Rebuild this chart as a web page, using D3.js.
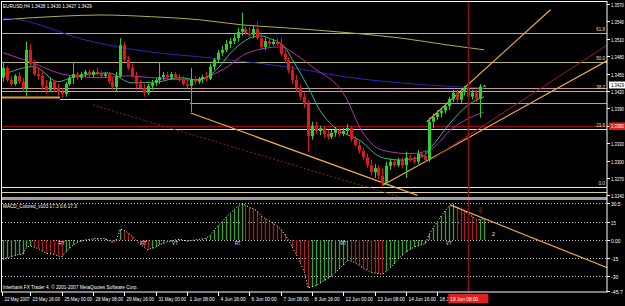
<!DOCTYPE html>
<html><head><meta charset="utf-8">
<script src="https://cdn.jsdelivr.net/npm/d3@7"></script>
<style>body{margin:0;background:#000;overflow:hidden}svg{display:block}text{font-family:"Liberation Sans",Arial,sans-serif}</style>
</head><body><script>
// ---------- DATA ----------
const symbolTitle = "EURUSD,H4 1.3428 1.3430 1.3427 1.3429";
const macdTitle = "MACD_Colored_v103 17.3 0.6 17.3";
const copyright = "Interbank FX Trader 4, \u00a9 2001-2007 MetaQuotes Software Corp.";
const openP = [1.3443,1.3460,1.3439,1.3432,1.3446,1.3436,1.3425,1.3491,1.3467,1.3449,1.3446,1.3429,1.3422,1.3436,1.3425,1.3418,1.3415,1.3432,1.3443,1.3449,1.3443,1.3449,1.3453,1.3448,1.3453,1.3451,1.3446,1.3449,1.3436,1.3427,1.3446,1.3499,1.3474,1.3460,1.3446,1.3432,1.3425,1.3417,1.3429,1.3434,1.3439,1.3444,1.3448,1.3443,1.3449,1.3444,1.3439,1.3432,1.3429,1.3439,1.3436,1.3441,1.3444,1.3441,1.3462,1.3474,1.3486,1.3491,1.3501,1.3506,1.3511,1.3522,1.3527,1.3520,1.3517,1.3527,1.3511,1.3496,1.3506,1.3501,1.3505,1.3501,1.3484,1.3474,1.3456,1.3439,1.3425,1.3410,1.3398,1.3342,1.3360,1.3351,1.3356,1.3346,1.3341,1.3348,1.3353,1.3346,1.3351,1.3356,1.3337,1.3327,1.3317,1.3306,1.3292,1.3280,1.3287,1.3274,1.3261,1.3291,1.3298,1.3292,1.3301,1.3292,1.3305,1.3301,1.3298,1.3312,1.3308,1.3301,1.3367,1.3375,1.3382,1.3386,1.3394,1.3406,1.3417,1.3405,1.3418,1.3424,1.3410,1.3417,1.3406,1.3428];
const highP = [1.3470,1.3463,1.3446,1.3449,1.3453,1.3443,1.3505,1.3501,1.3474,1.3460,1.3453,1.3439,1.3443,1.3439,1.3432,1.3425,1.3436,1.3446,1.3470,1.3453,1.3453,1.3456,1.3456,1.3456,1.3460,1.3455,1.3453,1.3453,1.3443,1.3453,1.3511,1.3505,1.3480,1.3467,1.3453,1.3439,1.3432,1.3432,1.3439,1.3443,1.3470,1.3453,1.3453,1.3453,1.3453,1.3449,1.3446,1.3439,1.3460,1.3446,1.3444,1.3448,1.3453,1.3467,1.3477,1.3491,1.3498,1.3508,1.3511,1.3518,1.3529,1.3555,1.3534,1.3530,1.3532,1.3539,1.3518,1.3511,1.3511,1.3510,1.3511,1.3511,1.3491,1.3479,1.3463,1.3448,1.3431,1.3417,1.3405,1.3367,1.3367,1.3360,1.3360,1.3353,1.3353,1.3358,1.3356,1.3356,1.3363,1.3360,1.3342,1.3334,1.3322,1.3312,1.3301,1.3294,1.3292,1.3287,1.3298,1.3303,1.3303,1.3305,1.3306,1.3315,1.3310,1.3308,1.3318,1.3315,1.3318,1.3374,1.3381,1.3387,1.3389,1.3398,1.3410,1.3422,1.3422,1.3425,1.3429,1.3429,1.3422,1.3422,1.3432,1.3430];
const lowP = [1.3436,1.3436,1.3429,1.3429,1.3432,1.3418,1.3412,1.3463,1.3446,1.3439,1.3422,1.3415,1.3418,1.3418,1.3412,1.3408,1.3410,1.3429,1.3432,1.3439,1.3439,1.3444,1.3443,1.3444,1.3446,1.3443,1.3443,1.3432,1.3422,1.3418,1.3443,1.3470,1.3456,1.3443,1.3425,1.3422,1.3410,1.3413,1.3422,1.3429,1.3432,1.3439,1.3439,1.3439,1.3441,1.3436,1.3429,1.3425,1.3384,1.3431,1.3432,1.3434,1.3436,1.3439,1.3456,1.3470,1.3480,1.3487,1.3494,1.3501,1.3505,1.3515,1.3517,1.3513,1.3511,1.3508,1.3491,1.3491,1.3496,1.3498,1.3498,1.3480,1.3468,1.3451,1.3432,1.3418,1.3405,1.3391,1.3315,1.3336,1.3346,1.3344,1.3339,1.3336,1.3337,1.3341,1.3341,1.3342,1.3344,1.3332,1.3324,1.3312,1.3301,1.3287,1.3274,1.3270,1.3268,1.3255,1.3258,1.3284,1.3289,1.3289,1.3287,1.3270,1.3298,1.3294,1.3294,1.3305,1.3296,1.3298,1.3356,1.3370,1.3374,1.3381,1.3387,1.3401,1.3399,1.3399,1.3412,1.3387,1.3405,1.3401,1.3374,1.3427];
const closeP = [1.3460,1.3439,1.3432,1.3446,1.3436,1.3425,1.3491,1.3467,1.3449,1.3446,1.3429,1.3422,1.3436,1.3425,1.3418,1.3415,1.3432,1.3443,1.3449,1.3443,1.3449,1.3453,1.3448,1.3453,1.3451,1.3446,1.3449,1.3436,1.3427,1.3446,1.3499,1.3474,1.3460,1.3446,1.3432,1.3425,1.3417,1.3429,1.3434,1.3439,1.3444,1.3448,1.3443,1.3449,1.3444,1.3439,1.3432,1.3429,1.3439,1.3436,1.3441,1.3444,1.3441,1.3462,1.3474,1.3486,1.3491,1.3501,1.3506,1.3511,1.3522,1.3527,1.3520,1.3517,1.3527,1.3511,1.3496,1.3506,1.3501,1.3505,1.3501,1.3484,1.3474,1.3456,1.3439,1.3425,1.3410,1.3398,1.3342,1.3360,1.3351,1.3356,1.3346,1.3341,1.3348,1.3353,1.3346,1.3351,1.3356,1.3337,1.3327,1.3317,1.3306,1.3292,1.3280,1.3287,1.3274,1.3261,1.3291,1.3298,1.3292,1.3301,1.3292,1.3305,1.3301,1.3298,1.3312,1.3308,1.3301,1.3367,1.3375,1.3382,1.3386,1.3394,1.3406,1.3417,1.3405,1.3418,1.3424,1.3410,1.3417,1.3406,1.3428,1.3429];

// moving averages read at sample bars
const maSlowBars = [0,15,25,38,50,61,72,89,102,114,123];
const maSlowVals = [1.3543,1.3549,1.3551,1.3548,1.3543,1.3534,1.3529,1.3520,1.3511,1.3499,1.3491];
const maBlueBars = [0,4,21,38,50,72,89,107,123];
const maBlueVals = [1.3546,1.3543,1.3508,1.3487,1.3479,1.3462,1.3443,1.3431,1.3425];
const maMagBars = [0,7,16,25,32,38,48,56,63,71,75,79,88,91,97,104,109,115,123];
const maMagVals = [1.3486,1.3470,1.3448,1.3443,1.3446,1.3443,1.3439,1.3456,1.3487,1.3496,1.3482,1.3462,1.3405,1.3360,1.3318,1.3312,1.3318,1.3356,1.3384];
const maTealBars = [0,8,14,18,27,33,40,45,50,54,59,63,66,68,72,74,78,81,85,91,97,102,107,110,114,119,123];
const maTealVals = [1.3448,1.3462,1.3436,1.3444,1.3451,1.3434,1.3436,1.3443,1.3439,1.3453,1.3491,1.3511,1.3515,1.3511,1.3496,1.3474,1.3427,1.3387,1.3356,1.3336,1.3305,1.3301,1.3306,1.3327,1.3362,1.3396,1.3410];

// horizontal levels (fibo + manual lines)
const fiboLevels = [1.3520, 1.3470, 1.3420, 1.3355, 1.3255];
const fiboLabels = ["61.8", "50.0", "38.2", "23.6", "0.0"];
const orangeLevels = [1.3410, 1.3400];
const redLevel = 1.3360;
const extraLevels = [1.3425, 1.3245];

// trend lines: [bar1, price1, bar2, price2]
const orangeTrend = [[48,1.3382,106,1.3240],[97.2,1.3258,154.7,1.3473],[108.4,1.3367,140,1.3560]];
const redTrend = [[23,1.3396,110,1.3220],[110,1.3304,154.7,1.3500]];

const macdVals = [-16,-15,-14,-13,-12,-12,-6,-5,-6,-7,-9,-11,-11.5,-12,-13,-14,-10,-7,-4,-2,-1,0,0.5,1,1.5,1.2,1.3,-0.5,-2,0,9,8,6,3,0,-3,-6,-8,-7,-6,-4,-3,-1.5,-1,0,0.5,0,-1,-0.5,0,0.5,1,1.5,4,8,12,15,19,22,25,28,30,29,27,26,24,20,18,16,14,12,9,5,0,-6,-12,-19,-26,-40,-39,-38,-36,-34,-32,-30,-27,-24,-21,-17,-17.5,-19,-21,-23,-25,-27,-27.5,-28,-28.5,-26,-23,-20,-16,-13,-10,-8,-6,-5,-4,-3,5,10,15,20,24,28,29.5,27.5,26,24,22,19.5,16.8,17.1,17.3];
const macdMarks = [{bar:15,t:"RT"},{bar:36,t:"RT"},{bar:44,t:"VT"},{bar:60,t:"RT"},{bar:87,t:"RT"},{bar:114,t:"VT"}];
const macdTrend = [114.3, 29.2, 154.7, -23.3];
const macdTicks = [30.5, 15, 0, -15, -30, -45.7];
const macdTickText = ["30.5", "15", "0.00", "-15", "-30", "-45.7"];
const macdGrid = [30.5, 15, 0, -15, -30];

const priceTicks = [1.3570,1.3540,1.3510,1.3480,1.3450,1.3420,1.3390,1.3360,1.3330,1.3300,1.3270,1.3240];
const timeLabels = ["22 May 2007","23 May 16:00","25 May 00:00","28 May 08:00","29 May 16:00","31 May 00:00","1 Jun 08:00","4 Jun 16:00","6 Jun 00:00","7 Jun 08:00","8 Jun 16:00","12 Jun 00:00","13 Jun 08:00","14 Jun 16:00","18 Jun 00:00"];
const timeLabelBars = [-1,7,15,23,31,39,47,55,63,71,79,87,95,103,111];
const cursorBar = 119;
const cursorLabel = "19 Jun 08:00";
const lastPrice = 1.3429;

// ---------- CHART ----------
const W = 625, H = 306;
const L = 2, R = 607, mainTop = 2, mainBot = 197, subTop = 201, subBot = 292;
const svg = d3.select("body").append("svg").attr("width", W).attr("height", H);
svg.append("rect").attr("width", W).attr("height", H).attr("fill", "#000");
const defs = svg.append("defs");
defs.append("clipPath").attr("id", "cm").append("rect").attr("x", L).attr("y", mainTop).attr("width", R - L).attr("height", mainBot - mainTop);
defs.append("clipPath").attr("id", "cs").append("rect").attr("x", L).attr("y", subTop).attr("width", R - L).attr("height", subBot - subTop);

const x = d3.scaleLinear().domain([0, 123]).range([3, 484]);
const y = d3.scaleLinear().domain([1.32372, 1.35734]).range([197, 2]);
const ym = d3.scaleLinear().domain([-43.3, 33.3]).range([292, 200]);

const gm = svg.append("g").attr("clip-path", "url(#cm)");
const gs = svg.append("g").attr("clip-path", "url(#cs)");

// small text helper: narrow pixel font look via horizontal scaling to a target width
const txt = (g, xx, yy, s, col, size, width, anchor = "start") => {
  const t = g.append("text").attr("x", 0).attr("y", 0).attr("fill", col).attr("font-size", size)
    .attr("text-anchor", anchor).text(s);
  let sx = 1;
  if (width) { const nat = t.node().getComputedTextLength(); if (nat > 0) sx = width / nat; }
  t.attr("transform", `translate(${xx},${yy}) scale(${sx},1)`);
  return t;
};

// horizontal lines
const hline = (g, p, col, w, x1 = L, x2 = R, dash = null) => g.append("line").attr("x1", x1).attr("x2", x2)
  .attr("y1", Math.round(y(p)) + 0.5).attr("y2", Math.round(y(p)) + 0.5).attr("stroke", col).attr("stroke-width", w)
  .attr("stroke-dasharray", dash);
fiboLevels.forEach((p, i) => {
  const col = i === 4 ? "#f4f0b0" : (i === 3 ? "#e8e8a0" : "#b8b870");
  hline(gm, p, col, 1);
});
hline(gm, extraLevels[0], "#c89898", 1);
hline(gm, extraLevels[1], "#d8d0a0", 1);
hline(gm, orangeLevels[0], "#e89a40", 2, L, 60);
hline(gm, orangeLevels[0] - 0.0003, "#e8e0d0", 1, 60, 190);
hline(gm, orangeLevels[1], "#e89a40", 1, 190, R);
hline(gm, redLevel, "#8a1010", 1.5);

// moving averages
const maLine = (bars, vals, col) => gm.append("path")
  .attr("d", d3.line().x(d => x(d[0])).y(d => y(d[1])).curve(d3.curveMonotoneX)(bars.map((b, i) => [b, vals[i]])))
  .attr("fill", "none").attr("stroke", col).attr("stroke-width", 1);
maLine(maSlowBars, maSlowVals, "#b0b048");
maLine(maBlueBars, maBlueVals, "#2828b8");
maLine(maMagBars, maMagVals, "#b030b0");
maLine(maTealBars, maTealVals, "#30b890");

// trend lines
orangeTrend.forEach(t => gm.append("line").attr("x1", x(t[0])).attr("y1", y(t[1])).attr("x2", x(t[2])).attr("y2", y(t[3]))
  .attr("stroke", "#f0a848").attr("stroke-width", 1.2));
gm.append("line").attr("x1", x(redTrend[0][0])).attr("y1", y(redTrend[0][1])).attr("x2", x(redTrend[0][2])).attr("y2", y(redTrend[0][3]))
  .attr("stroke", "#9a2020").attr("stroke-width", 1).attr("stroke-dasharray", "2,2");
gm.append("line").attr("x1", x(redTrend[1][0])).attr("y1", y(redTrend[1][1])).attr("x2", x(redTrend[1][2])).attr("y2", y(redTrend[1][3]))
  .attr("stroke", "#9a2020").attr("stroke-width", 1);

// candles
const idx = d3.range(openP.length);
const bull = i => closeP[i] >= openP[i];
gm.selectAll(".wick").data(idx).join("line")
  .attr("x1", i => Math.round(x(i)) + 0.5).attr("x2", i => Math.round(x(i)) + 0.5)
  .attr("y1", i => y(highP[i])).attr("y2", i => y(lowP[i]))
  .attr("stroke", i => bull(i) ? "#2ed02e" : "#e01818").attr("stroke-width", 1);
gm.selectAll(".body").data(idx).join("rect")
  .attr("x", i => Math.round(x(i)) - 1).attr("width", 3)
  .attr("y", i => y(Math.max(openP[i], closeP[i])))
  .attr("height", i => Math.max(1, Math.abs(y(openP[i]) - y(closeP[i]))))
  .attr("fill", i => bull(i) ? "#2ed02e" : "#e01818");

// fibo labels
fiboLevels.forEach((p, i) => txt(svg, 605, y(p) - 1.5, fiboLabels[i], "#e0e0a0", 5.5, fiboLabels[i].length * 2.2, "end"));

// cursor vertical line
svg.append("line").attr("x1", Math.round(x(cursorBar)) + 0.5).attr("x2", Math.round(x(cursorBar)) + 0.5)
  .attr("y1", mainTop).attr("y2", subBot).attr("stroke", "#901010").attr("stroke-width", 1.5);

// separator
svg.append("rect").attr("x", L).attr("y", 197).attr("width", R - L).attr("height", 3).attr("fill", "#a0a0a0");

// MACD panel
macdGrid.forEach(v => gs.append("line").attr("x1", L).attr("x2", R).attr("y1", Math.round(ym(v)) + 0.5).attr("y2", Math.round(ym(v)) + 0.5)
  .attr("stroke", "#c0c0c0").attr("stroke-width", 1).attr("stroke-dasharray", "1,2"));
gs.selectAll(".hist").data(idx).join("line")
  .attr("x1", i => Math.round(x(i)) + 0.5).attr("x2", i => Math.round(x(i)) + 0.5)
  .attr("y1", ym(0)).attr("y2", i => ym(macdVals[i]))
  .attr("stroke", i => (i === 0 || macdVals[i] >= macdVals[i - 1]) ? "#3aa03a" : "#a82020").attr("stroke-width", 1.3);
gs.append("path").attr("d", d3.line().x((d, i) => x(i)).y(d => ym(d))(macdVals))
  .attr("fill", "none").attr("stroke", "#ffffff").attr("stroke-width", 1).attr("stroke-dasharray", "1,2");
gs.append("line").attr("x1", x(macdTrend[0])).attr("y1", ym(macdTrend[1])).attr("x2", x(macdTrend[2])).attr("y2", ym(macdTrend[3]))
  .attr("stroke", "#f0a848").attr("stroke-width", 1.2);
macdMarks.forEach(m => txt(svg, x(m.bar), ym(0) + 5, m.t, "#e0e0e0", 5.5, 6, "middle"));
txt(svg, x(122), 213, "\u21e9", "#e02020", 8, null, "middle");
txt(svg, x(125), 236, "2", "#e0e0e0", 6, null);

// frame
svg.append("rect").attr("x", 1.5).attr("y", 1.5).attr("width", R - 1.5).attr("height", subBot - 1.5)
  .attr("fill", "none").attr("stroke", "#ffffff").attr("stroke-width", 1);

// texts
txt(svg, 3, 8, symbolTitle, "#fff", 6, 89);
txt(svg, 3, 208, macdTitle, "#fff", 6, 74);
txt(svg, 3, 289, copyright, "#fff", 6, 135);

// price axis
priceTicks.forEach(p => {
  const yy = Math.round(y(p)) + 0.5;
  svg.append("line").attr("x1", R).attr("x2", R + 3).attr("y1", yy).attr("y2", yy).attr("stroke", "#fff");
  txt(svg, 611, yy + 2.5, p.toFixed(4), "#fff", 5.5, 13);
});
svg.append("rect").attr("x", 609).attr("y", Math.round(y(redLevel)) - 3.5).attr("width", 16).attr("height", 7.5).attr("fill", "#e02020");
txt(svg, 611, Math.round(y(redLevel)) + 2.4, redLevel.toFixed(4), "#fff", 5.5, 13);
const lpY = Math.round(y(lastPrice)) - 1;
svg.append("rect").attr("x", 609).attr("y", lpY - 3.5).attr("width", 16).attr("height", 7).attr("fill", "#fff");
txt(svg, 611, lpY + 2.2, lastPrice.toFixed(4), "#000", 5.2, 13);

// macd axis
macdTicks.forEach((v, i) => {
  const yy = Math.min(291, Math.round(ym(v))) + 0.5;
  svg.append("line").attr("x1", R).attr("x2", R + 3).attr("y1", yy).attr("y2", yy).attr("stroke", "#fff");
  txt(svg, 611, yy + 2.2, macdTickText[i], "#fff", 5.5, macdTickText[i].length * 2.4);
});

// time axis
timeLabels.forEach((t, i) => {
  const xx = Math.max(2, Math.round(x(timeLabelBars[i]))) + 0.5;
  svg.append("line").attr("x1", xx).attr("x2", xx).attr("y1", subBot).attr("y2", subBot + 4).attr("stroke", "#fff");
  if (i < timeLabels.length - 1) txt(svg, xx + 2, 301, t, "#fff", 6, t.length * 2.3);
  else txt(svg, xx + 2, 301, t.slice(0, 4), "#fff", 6, 4 * 2.3);
});
const cx = x(cursorBar);
svg.append("rect").attr("x", cx - 20).attr("y", 294).attr("width", 40).attr("height", 9).attr("fill", "#e02020");
txt(svg, cx - 18, 301, cursorLabel, "#fff", 6, 28);
</script></body></html>
